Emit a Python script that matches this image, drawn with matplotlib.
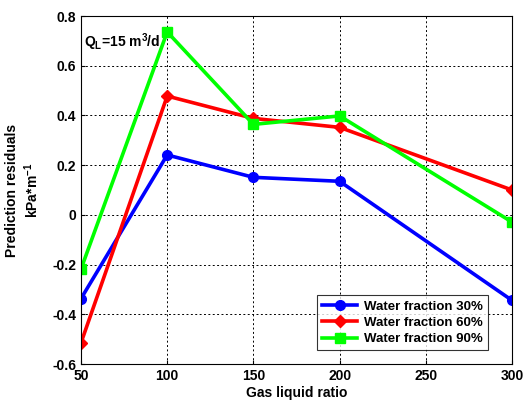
import matplotlib.pyplot as plt
import numpy as np

plt.rcParams['font.family'] = ['Liberation Sans', 'DejaVu Sans']
plt.rcParams['font.weight'] = 'bold'
plt.rcParams['mathtext.fontset'] = 'custom'
plt.rcParams['mathtext.rm'] = 'Liberation Sans:bold'
plt.rcParams['mathtext.it'] = 'Liberation Sans:bold'
plt.rcParams['mathtext.bf'] = 'Liberation Sans:bold'

gas_liquid_ratio = [50, 100, 150, 200, 300]
wf30 = [-0.337, 0.241, 0.151, 0.135, -0.344]
wf60 = [-0.515, 0.478, 0.388, 0.352, 0.100]
wf90 = [-0.218, 0.736, 0.364, 0.398, -0.029]
labels = ['Water fraction 30%', 'Water fraction 60%', 'Water fraction 90%']

fig = plt.figure(figsize=(5.28, 4.0), dpi=100)
ax = fig.add_axes([81/528, 1 - 364/400, (512-81)/528, (364-16)/400])

ax.plot(gas_liquid_ratio, wf30, color='#0000ff', lw=2.6, marker='o', ms=7, label=labels[0])
ax.plot(gas_liquid_ratio, wf60, color='#ff0000', lw=2.6, marker='D', ms=6, label=labels[1])
ax.plot(gas_liquid_ratio, wf90, color='#00ff00', lw=2.6, marker='s', ms=7, label=labels[2])

ax.set_xlim(50, 300)
ax.set_ylim(-0.6, 0.8)
ax.set_xticks([50, 100, 150, 200, 250, 300])
ax.set_yticks(np.arange(-0.6, 0.81, 0.2))
ax.set_yticklabels(['-0.6', '-0.4', '-0.2', '0', '0.2', '0.4', '0.6', '0.8'])
ax.tick_params(labelsize=10, direction='in', length=3)
ax.grid(True, color='black', linestyle=(0, (2, 2.5)), linewidth=0.7)
for s in ax.spines.values():
    s.set_linewidth(0.8)

ax.set_xlabel('Gas liquid ratio', fontsize=10, fontweight='bold', labelpad=2)
ax.set_ylabel('Prediction residuals\nkPa*m$^{-1}$', fontsize=10, fontweight='bold', labelpad=8)

ax.text(0.008, 0.955, 'Q$_L$=15 m$^3$/d', transform=ax.transAxes, fontsize=10,
        fontweight='bold', va='top', ha='left')

leg = ax.legend(loc='lower right', bbox_to_anchor=(0.96, 0.02), fontsize=9.5,
                frameon=True, fancybox=False, edgecolor='black', handlelength=2.7,
                borderpad=0.4, labelspacing=0.3, handletextpad=0.5)
leg.get_frame().set_linewidth(0.8)

fig.savefig('out.png', dpi=100)
